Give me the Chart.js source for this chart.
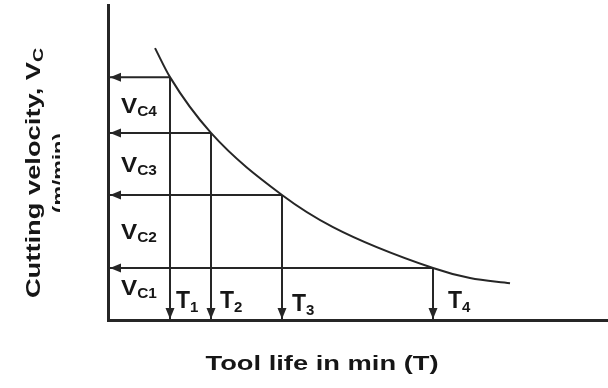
<!DOCTYPE html>
<html>
<head>
<meta charset="utf-8">
<script src="https://cdn.jsdelivr.net/npm/chart.js@4.4.0/dist/chart.umd.min.js"></script>
<style>
  html, body { margin: 0; padding: 0; background: #fff; }
  #wrap { width: 608px; height: 388px; }
</style>
</head>
<body>
<div id="wrap"><canvas id="c" width="608" height="388"></canvas></div>
<script>
// tool life curve (relative units, 0-100 on both axes)
const curveT = [9.4, 12.4, 20.6, 34.8, 45.0, 65.0, 72.4, 80.4];
const curveV = [86.3, 77.1, 59.4, 39.7, 29.5, 16.5, 13.3, 11.7];

// the four marked points, T1..T4
const toolLife = [12.4, 20.6, 34.8, 65.0];
const velocity = [77.1, 59.4, 39.7, 16.5];
const tLabels = ['1', '2', '3', '4'];
const vLabels = ['C4', 'C3', 'C2', 'C1'];   // bands from top to bottom

const xTitle = 'Tool life in min (T)';
const yTitle = 'Cutting velocity, V';
const yTitleSub = 'C';
const yUnit = '(m/min)';

const lineColor = '#262626';
const textColor = '#161616';
const FONT = '"Liberation Sans", Arial, sans-serif';
const tLabelDx = [6, 9, 10, 15];

const datasets = [{
  data: curveT.map((t, i) => ({ x: t, y: curveV[i] })),
  showLine: true,
  borderColor: lineColor,
  borderWidth: 2,
  pointRadius: 0,
  cubicInterpolationMode: 'monotone'
}];

// guide lines: point -> y axis and point -> x axis
toolLife.forEach((t, i) => {
  datasets.push({
    data: [{ x: t, y: velocity[i] }, { x: 0, y: velocity[i] }],
    showLine: true, borderColor: lineColor, borderWidth: 2, pointRadius: 0
  });
  datasets.push({
    data: [{ x: t, y: velocity[i] }, { x: t, y: 0 }],
    showLine: true, borderColor: lineColor, borderWidth: 2, pointRadius: 0
  });
});

// draw text stretched along its direction (the scan's lettering is wide)
function wideText(ctx, str, x, y, font, sx) {
  ctx.save();
  ctx.translate(x, y);
  ctx.scale(sx, 1);
  ctx.font = font;
  ctx.fillText(str, 0, 0);
  const w = ctx.measureText(str).width * sx;
  ctx.restore();
  return w;
}

function labelWithSub(ctx, main, sub, x, y, size, subSize, subDrop, sx) {
  ctx.textAlign = 'left';
  const w = wideText(ctx, main, x, y, 'bold ' + size + 'px ' + FONT, sx);
  if (sub) wideText(ctx, sub, x + w, y + subDrop, 'bold ' + subSize + 'px ' + FONT, sx);
}

const annotate = {
  id: 'annotate',
  afterDatasetsDraw(chart) {
    const { ctx, scales: { x, y } } = chart;
    const x0 = x.getPixelForValue(0);
    const y0 = y.getPixelForValue(0);
    ctx.save();
    ctx.fillStyle = lineColor;

    // arrow heads
    toolLife.forEach((t, i) => {
      const px = x.getPixelForValue(t);
      const py = y.getPixelForValue(velocity[i]);
      ctx.beginPath();
      ctx.moveTo(x0 + 2, py);
      ctx.lineTo(x0 + 13, py - 4.5);
      ctx.lineTo(x0 + 13, py + 4.5);
      ctx.closePath();
      ctx.fill();
      ctx.beginPath();
      ctx.moveTo(px, y0 - 1);
      ctx.lineTo(px - 4.5, y0 - 12);
      ctx.lineTo(px + 4.5, y0 - 12);
      ctx.closePath();
      ctx.fill();
    });

    ctx.fillStyle = textColor;
    ctx.textBaseline = 'alphabetic';

    // V_C labels centred in each band
    velocity.forEach((v, i) => {
      const top = y.getPixelForValue(v);
      const bot = i === velocity.length - 1 ? y0 - 14 : y.getPixelForValue(velocity[i + 1]);
      const cy = (top + bot) / 2;
      labelWithSub(ctx, 'V', vLabels[i], x0 + 13, cy + 8, 22, 14, 3, 1.1);
    });

    // T labels beside each down line
    toolLife.forEach((t, i) => {
      const px = x.getPixelForValue(t) + tLabelDx[i];
      const dy = i === 2 ? 3 : 0;
      labelWithSub(ctx, 'T', tLabels[i], px, y0 - 12 + dy, 23, 15, 4, 1.0);
    });

    // x axis title
    ctx.save();
    ctx.font = 'bold 21px ' + FONT;
    const xw = ctx.measureText(xTitle).width * 1.3;
    ctx.restore();
    labelWithSub(ctx, xTitle, '', 322 - xw / 2, 370, 21, 14, 0, 1.3);

    // y axis title, rotated
    ctx.save();
    ctx.translate(40, 173);
    ctx.rotate(-Math.PI / 2);
    ctx.font = 'bold 21px ' + FONT;
    const mw = ctx.measureText(yTitle).width * 1.3;
    ctx.font = 'bold 15px ' + FONT;
    const sw = ctx.measureText(yTitleSub).width * 1.3;
    labelWithSub(ctx, yTitle, yTitleSub, -(mw + sw) / 2, 0, 21, 15, 3, 1.3);
    // unit line, partly cut off as in the scan
    ctx.beginPath();
    ctx.rect(-100, 8, 200, 12);
    ctx.clip();
    ctx.font = 'bold 17px ' + FONT;
    const uw = ctx.measureText(yUnit).width * 1.3;
    labelWithSub(ctx, yUnit, '', -uw / 2, 24, 17, 12, 0, 1.3);
    ctx.restore();

    ctx.restore();
  }
};

new Chart(document.getElementById('c'), {
  type: 'scatter',
  data: { datasets },
  options: {
    responsive: false,
    animation: false,
    events: [],
    layout: { padding: { left: 100, right: 0, top: 5, bottom: 60 } },
    plugins: { legend: { display: false }, tooltip: { enabled: false } },
    scales: {
      x: {
        type: 'linear', min: 0, max: 100,
        grid: { display: false },
        ticks: { display: false },
        border: { display: true, color: lineColor, width: 3 }
      },
      y: {
        type: 'linear', min: 0, max: 100,
        grid: { display: false },
        ticks: { display: false },
        border: { display: true, color: lineColor, width: 3 }
      }
    }
  },
  plugins: [annotate]
});
</script>
</body>
</html>
